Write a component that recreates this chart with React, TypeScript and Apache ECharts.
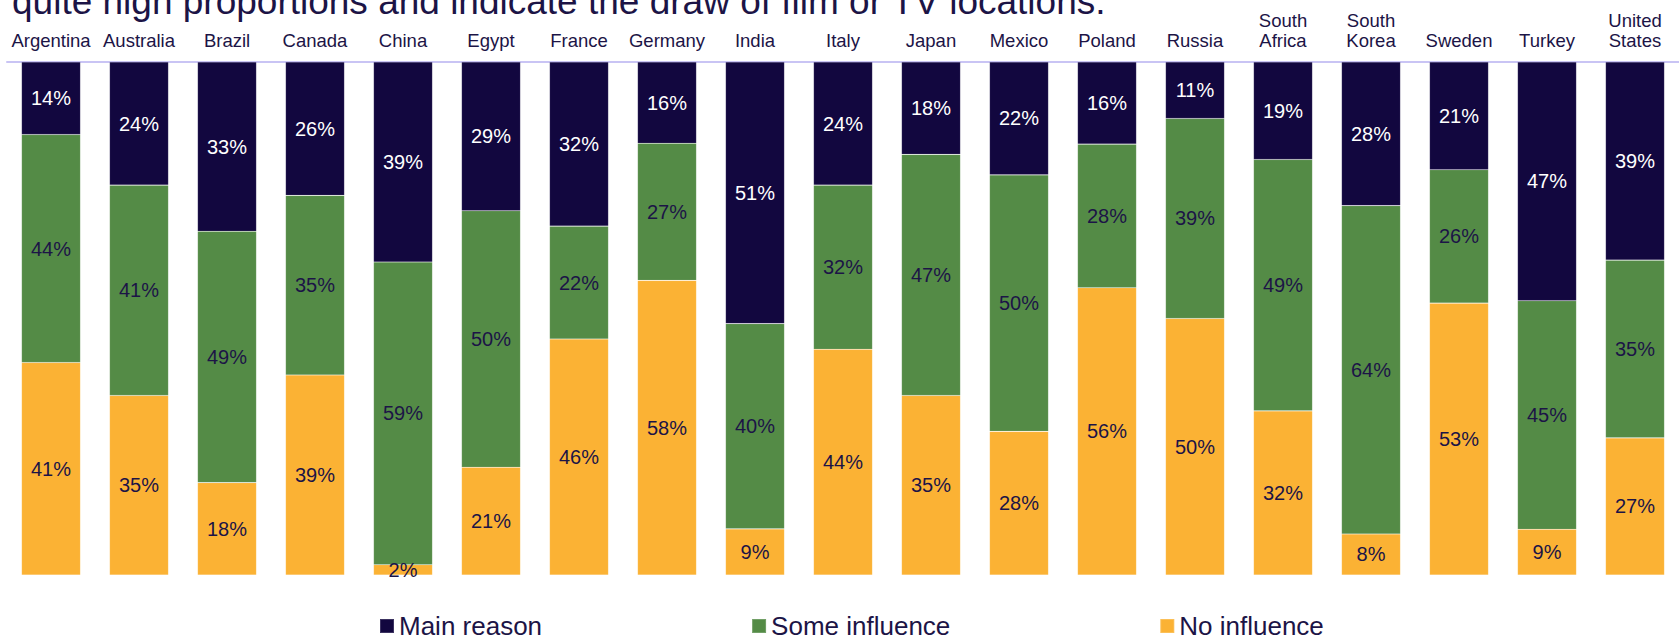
import React, { useEffect, useRef } from "react";
import * as echarts from "echarts";

const categories = [
  "Argentina", "Australia", "Brazil", "Canada", "China", "Egypt", "France",
  "Germany", "India", "Italy", "Japan", "Mexico", "Poland", "Russia",
  "South\nAfrica", "South\nKorea", "Sweden", "Turkey", "United\nStates",
];
const mainReason = [14, 24, 33, 26, 39, 29, 32, 16, 51, 24, 18, 22, 16, 11, 19, 28, 21, 47, 39];
const someInfluence = [44, 41, 49, 35, 59, 50, 22, 27, 40, 32, 47, 50, 28, 39, 49, 64, 26, 45, 35];
const noInfluence = [41, 35, 18, 39, 2, 21, 46, 58, 9, 44, 35, 28, 56, 50, 32, 8, 53, 9, 27];
const seriesNames = ["Main reason", "Some influence", "No influence"];
const titleText = "quite high proportions and indicate the draw of film or TV locations.";

const FONT = "'Liberation Sans', Arial, Helvetica, sans-serif";
const DARK_TEXT = "#1c1446";

export default function App() {
  const ref = useRef<HTMLDivElement>(null);

  useEffect(() => {
    if (!ref.current) return;
    const chart = echarts.init(ref.current, null, { renderer: "svg" });

    const totals = categories.map((_, i) => mainReason[i] + someInfluence[i] + noInfluence[i]);
    const toData = (arr: number[]) =>
      arr.map((v, i) => ({ value: (v / totals[i]) * 100, raw: v }));

    const mk = (name: string, arr: number[], color: string, labelColor: string) => ({
      name,
      type: "bar",
      stack: "total",
      barWidth: 59,
      data: toData(arr),
      itemStyle: { color, borderColor: "rgba(255,255,255,0.18)", borderWidth: 0.6 },
      label: {
        show: true,
        position: "inside",
        color: labelColor,
        fontSize: 20,
        fontFamily: FONT,
        formatter: (p: any) => `${p.data.raw}%`,
      },
    });

    chart.setOption({
      animation: false,
      textStyle: { fontFamily: FONT },
      graphic: [
        {
          type: "text",
          x: 12,
          y: 1,
          style: {
            text: titleText,
            font: `37px ${FONT}`,
            fill: DARK_TEXT,
            verticalAlign: "middle",
          },
        },
      ],
      legend: {
        data: seriesNames,
        left: 379,
        top: 613,
        padding: 0,
        itemGap: 209,
        itemWidth: 14,
        itemHeight: 14,
        icon: "rect",
        textStyle: { fontSize: 26, color: DARK_TEXT, fontFamily: FONT },
      },
      grid: { left: 7, top: 62, width: 1672, height: 513 },
      xAxis: {
        type: "category",
        position: "top",
        data: categories,
        axisLine: { onZero: false, lineStyle: { color: "#c9c4f4", width: 2 } },
        axisTick: { show: false },
        axisLabel: {
          interval: 0,
          fontSize: 18.5,
          lineHeight: 20,
          color: DARK_TEXT,
          fontFamily: FONT,
          margin: 12,
        },
      },
      yAxis: { type: "value", min: 0, max: 100, show: false },
      series: [
        mk(seriesNames[2], noInfluence, "#fbb234", DARK_TEXT),
        mk(seriesNames[1], someInfluence, "#548b46", DARK_TEXT),
        mk(seriesNames[0], mainReason, "#12073f", "#ffffff"),
      ],
    });

    return () => chart.dispose();
  }, []);

  return (
    <div
      ref={ref}
      style={{ position: "absolute", left: 0, top: 0, width: 1679, height: 638 }}
    />
  );
}
